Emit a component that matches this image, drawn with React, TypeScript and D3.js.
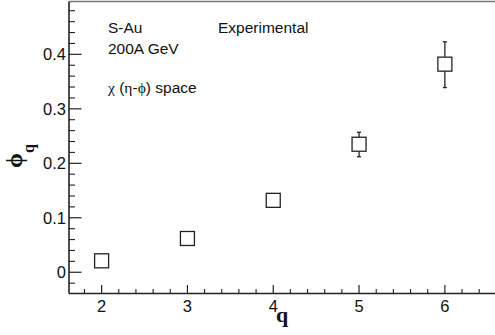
import React from "react";
import * as d3 from "d3";

const qValues = [2, 3, 4, 5, 6];
const phiValues = [0.021, 0.062, 0.132, 0.235, 0.382];
const errLow = [0, 0, 0, 0.023, 0.043];
const errHigh = [0, 0, 0, 0.022, 0.041];
const xTicks = [2, 3, 4, 5, 6];
const yTicks = [0, 0.1, 0.2, 0.3, 0.4];

const W = 495;
const H = 335;
const left = 69;
const right = 495.5;
const top = 1.5;
const bottom = 293.5;

export default function App() {
  const x = d3.scaleLinear().domain([1.62, 6.59]).range([left, right]);
  const y = d3.scaleLinear().domain([-0.039, 0.497]).range([bottom, top]);

  const xMinor = d3.range(1.8, 6.6, 0.2).filter((v) => Math.abs(v - Math.round(v)) > 1e-6);
  const yMinor = d3.range(-0.02, 0.497, 0.02).filter((v) => Math.abs(v * 10 - Math.round(v * 10)) > 1e-6);

  const sans = "'Liberation Sans', Arial, Helvetica, sans-serif";
  const serif = "'Liberation Serif', 'Times New Roman', serif";
  const axisColor = "#222";
  const sq = 14;

  return (
    <div style={{ position: "fixed", left: 0, top: 0 }}>
      <svg width={W} height={H} style={{ display: "block", background: "#fff" }}>
        {/* frame top line */}
        <line x1={left} x2={W} y1={top} y2={top} stroke="#777" strokeWidth={1.5} />
        {/* axes */}
        <line x1={left} x2={left} y1={top} y2={bottom} stroke={axisColor} strokeWidth={1.6} />
        <line x1={left} x2={W} y1={bottom} y2={bottom} stroke={axisColor} strokeWidth={1.6} />

        {/* x ticks */}
        {xTicks.map((t) => (
          <g key={"xt" + t}>
            <line x1={x(t)} x2={x(t)} y1={bottom} y2={bottom - 8.5} stroke={axisColor} strokeWidth={1.2} />
            <text x={x(t)} y={311.7} textAnchor="middle" fontFamily={sans} fontSize={16.5} fill="#111">
              {t}
            </text>
          </g>
        ))}
        {xMinor.map((t, i) => (
          <line key={"xm" + i} x1={x(t)} x2={x(t)} y1={bottom} y2={bottom - 4.5} stroke={axisColor} strokeWidth={1.1} />
        ))}

        {/* y ticks */}
        {yTicks.map((t) => (
          <g key={"yt" + t}>
            <line x1={left} x2={left + 12.5} y1={y(t)} y2={y(t)} stroke={axisColor} strokeWidth={1.2} />
            <text x={66} y={y(t) + 6} textAnchor="end" fontFamily={sans} fontSize={16.5} fill="#111">
              {t === 0 ? "0" : t.toFixed(1)}
            </text>
          </g>
        ))}
        {yMinor.map((t, i) => (
          <line key={"ym" + i} x1={left} x2={left + 6} y1={y(t)} y2={y(t)} stroke={axisColor} strokeWidth={1.1} />
        ))}

        {/* axis titles */}
        <text x={282} y={322} textAnchor="middle" fontFamily={serif} fontWeight="bold" fontSize={22} fill="#111">
          q
        </text>
        <text transform="translate(22,168) rotate(-90)" fontFamily={serif} fontWeight="bold" fontSize={24} fill="#111">
          ϕ
          <tspan fontSize={16} dy={12}>q</tspan>
        </text>

        {/* annotations */}
        <text x={108} y={33} fontFamily={sans} fontSize={15.5} fill="#111">S-Au</text>
        <text x={108} y={54} fontFamily={sans} fontSize={15.5} fill="#111">200A GeV</text>
        <text x={108} y={93} fontFamily={sans} fontSize={15.5} fill="#111">
          <tspan fontFamily={serif}>χ</tspan> (<tspan fontFamily={serif}>η</tspan>-<tspan fontFamily={serif}>ϕ</tspan>) space
        </text>
        <text x={218} y={33} fontFamily={sans} fontSize={15.5} fill="#111">Experimental</text>

        {/* error bars */}
        {qValues.map((q, i) =>
          errLow[i] > 0 || errHigh[i] > 0 ? (
            <g key={"e" + i} stroke="#222" strokeWidth={1.3}>
              <line x1={x(q)} x2={x(q)} y1={y(phiValues[i] + errHigh[i])} y2={y(phiValues[i] - errLow[i])} />
              <line x1={x(q) - 2} x2={x(q) + 2} y1={y(phiValues[i] + errHigh[i])} y2={y(phiValues[i] + errHigh[i])} />
              <line x1={x(q) - 2} x2={x(q) + 2} y1={y(phiValues[i] - errLow[i])} y2={y(phiValues[i] - errLow[i])} />
            </g>
          ) : null
        )}
        {/* markers */}
        {qValues.map((q, i) => (
          <rect
            key={"m" + i}
            x={x(q) - sq / 2}
            y={y(phiValues[i]) - sq / 2}
            width={sq}
            height={sq}
            fill="#fff"
            stroke="#222"
            strokeWidth={1.3}
          />
        ))}
      </svg>
    </div>
  );
}
